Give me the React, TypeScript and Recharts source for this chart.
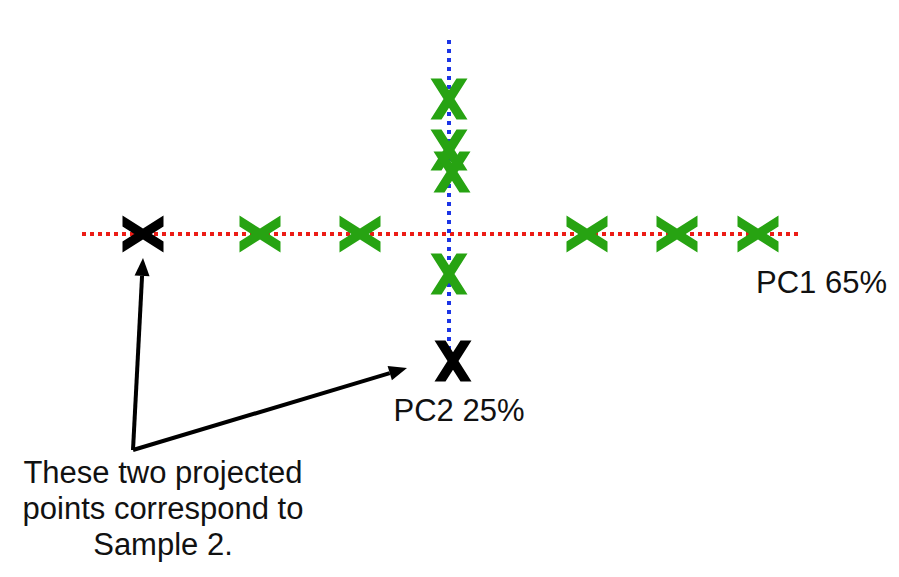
import {
  ReferenceDot,
  ReferenceLine,
  Scatter,
  ScatterChart,
  XAxis,
  YAxis,
} from "recharts"

// scores projected onto each principal component (arbitrary units)
const pc1Scores = [-18.9, -8.9, 13.8, 22.8, 30.9]
const pc2Scores = [13.5, 8.4, 6.2, -4.0]
const pc2Offsets = [0, 0, 0.3, 0]
const sample2Pc1 = -30.6
const sample2Pc2 = -12.7

const pc1Extent = [-36.7, 34.9]
const pc2Extent = [-11.6, 19.9]
const pc1Label = "PC1 65%"
const pc2Label = "PC2 25%"
const noteLines = ["These two projected", "points correspond to", "Sample 2."]

// where the annotation arrows start and end
const noteCorner = { x: -31.6, y: -21.6 }
const arrowTips = [
  { x: -30.6, y: -2.4 },
  { x: -4.2, y: -13.4 },
]

const GREEN = "#27a312"
const RED = "#ec1c16"
const BLUE = "#1b34e6"
const FONT = "'Liberation Sans', Arial, Helvetica, sans-serif"

const pc1Data = pc1Scores.map((x) => ({ x, y: 0 }))
const pc2Data = pc2Scores.map((y, i) => ({ x: pc2Offsets[i], y }))
const sampleOnPc1 = [{ x: sample2Pc1, y: 0 }]
const sampleOnPc2 = [{ x: 0.4, y: sample2Pc2 }]

// bold "X" glyph, optionally turned on its side
function XMark({ cx, cy, fill, turned }: { cx: number; cy: number; fill: string; turned?: boolean }) {
  const pts = [
    [-18.5, -20.5], [-7.5, -20.5], [0, -8.7], [7.5, -20.5], [18.5, -20.5], [5.5, 0],
    [18.5, 20.5], [7.5, 20.5], [0, 8.7], [-7.5, 20.5], [-18.5, 20.5], [-5.5, 0],
  ]
  const d = pts
    .map(([a, b]) => (turned ? `${cx + b},${cy + a}` : `${cx + a},${cy + b}`))
    .join(" ")
  return <polygon points={d} fill={fill} />
}

function Arrow(props: any) {
  const { x1, y1, x2, y2 } = props
  const ang = Math.atan2(y2 - y1, x2 - x1)
  const len = 18
  const half = 7.5
  const bx = x2 - len * Math.cos(ang)
  const by = y2 - len * Math.sin(ang)
  const px = -Math.sin(ang) * half
  const py = Math.cos(ang) * half
  return (
    <g>
      <line x1={x1} y1={y1} x2={bx} y2={by} stroke="#000" strokeWidth={4} />
      <polygon points={`${x2},${y2} ${bx + px},${by + py} ${bx - px},${by - py}`} fill="#000" />
    </g>
  )
}

export default function App() {
  return (
    <div style={{ position: "absolute", left: 0, top: 0, background: "#fff" }}>
      <ScatterChart width={899} height={577} margin={{ top: 0, right: 0, bottom: 0, left: 0 }}>
        <XAxis type="number" dataKey="x" domain={[-44.9, 45]} hide />
        <YAxis type="number" dataKey="y" domain={[-34.3, 23.4]} hide />
        <Scatter
          data={pc1Data}
          isAnimationActive={false}
          shape={(p: any) => <XMark cx={p.cx} cy={p.cy} fill={GREEN} turned />}
        />
        <Scatter
          data={pc2Data}
          isAnimationActive={false}
          shape={(p: any) => <XMark cx={p.cx} cy={p.cy} fill={GREEN} />}
        />
        <Scatter
          data={sampleOnPc1}
          isAnimationActive={false}
          shape={(p: any) => <XMark cx={p.cx} cy={p.cy} fill="#000" turned />}
        />
        <Scatter
          data={sampleOnPc2}
          isAnimationActive={false}
          shape={(p: any) => <XMark cx={p.cx} cy={p.cy} fill="#000" />}
        />
        <ReferenceLine
          segment={[
            { x: pc1Extent[0], y: 0 },
            { x: pc1Extent[1], y: 0 },
          ]}
          stroke={RED}
          strokeWidth={4}
          strokeDasharray="4 4"
          label={(p: any) => (
            <text
              x={p.viewBox.x + p.viewBox.width + 89}
              y={p.viewBox.y + 59}
              textAnchor="end"
              fontFamily={FONT}
              fontSize={31}
              fill="#111"
            >
              {pc1Label}
            </text>
          )}
        />
        <ReferenceLine
          segment={[
            { x: 0, y: pc2Extent[0] },
            { x: 0, y: pc2Extent[1] },
          ]}
          stroke={BLUE}
          strokeWidth={4}
          strokeDasharray="4 5"
          label={(p: any) => (
            <text
              x={p.viewBox.x + 10}
              y={p.viewBox.y + p.viewBox.height + 71}
              textAnchor="middle"
              fontFamily={FONT}
              fontSize={31}
              fill="#111"
            >
              {pc2Label}
            </text>
          )}
        />
        {arrowTips.map((tip, i) => (
          <ReferenceLine key={i} segment={[noteCorner, tip]} shape={Arrow} ifOverflow="visible" />
        ))}
        <ReferenceDot
          x={noteCorner.x}
          y={noteCorner.y}
          ifOverflow="visible"
          shape={(p: any) => (
            <text x={p.cx + 30} y={p.cy + 33} textAnchor="middle" fontFamily={FONT} fontSize={31} fill="#111">
              {noteLines.map((line, i) => (
                <tspan key={i} x={p.cx + 30} dy={i === 0 ? 0 : 36}>
                  {line}
                </tspan>
              ))}
            </text>
          )}
        />
      </ScatterChart>
    </div>
  )
}
